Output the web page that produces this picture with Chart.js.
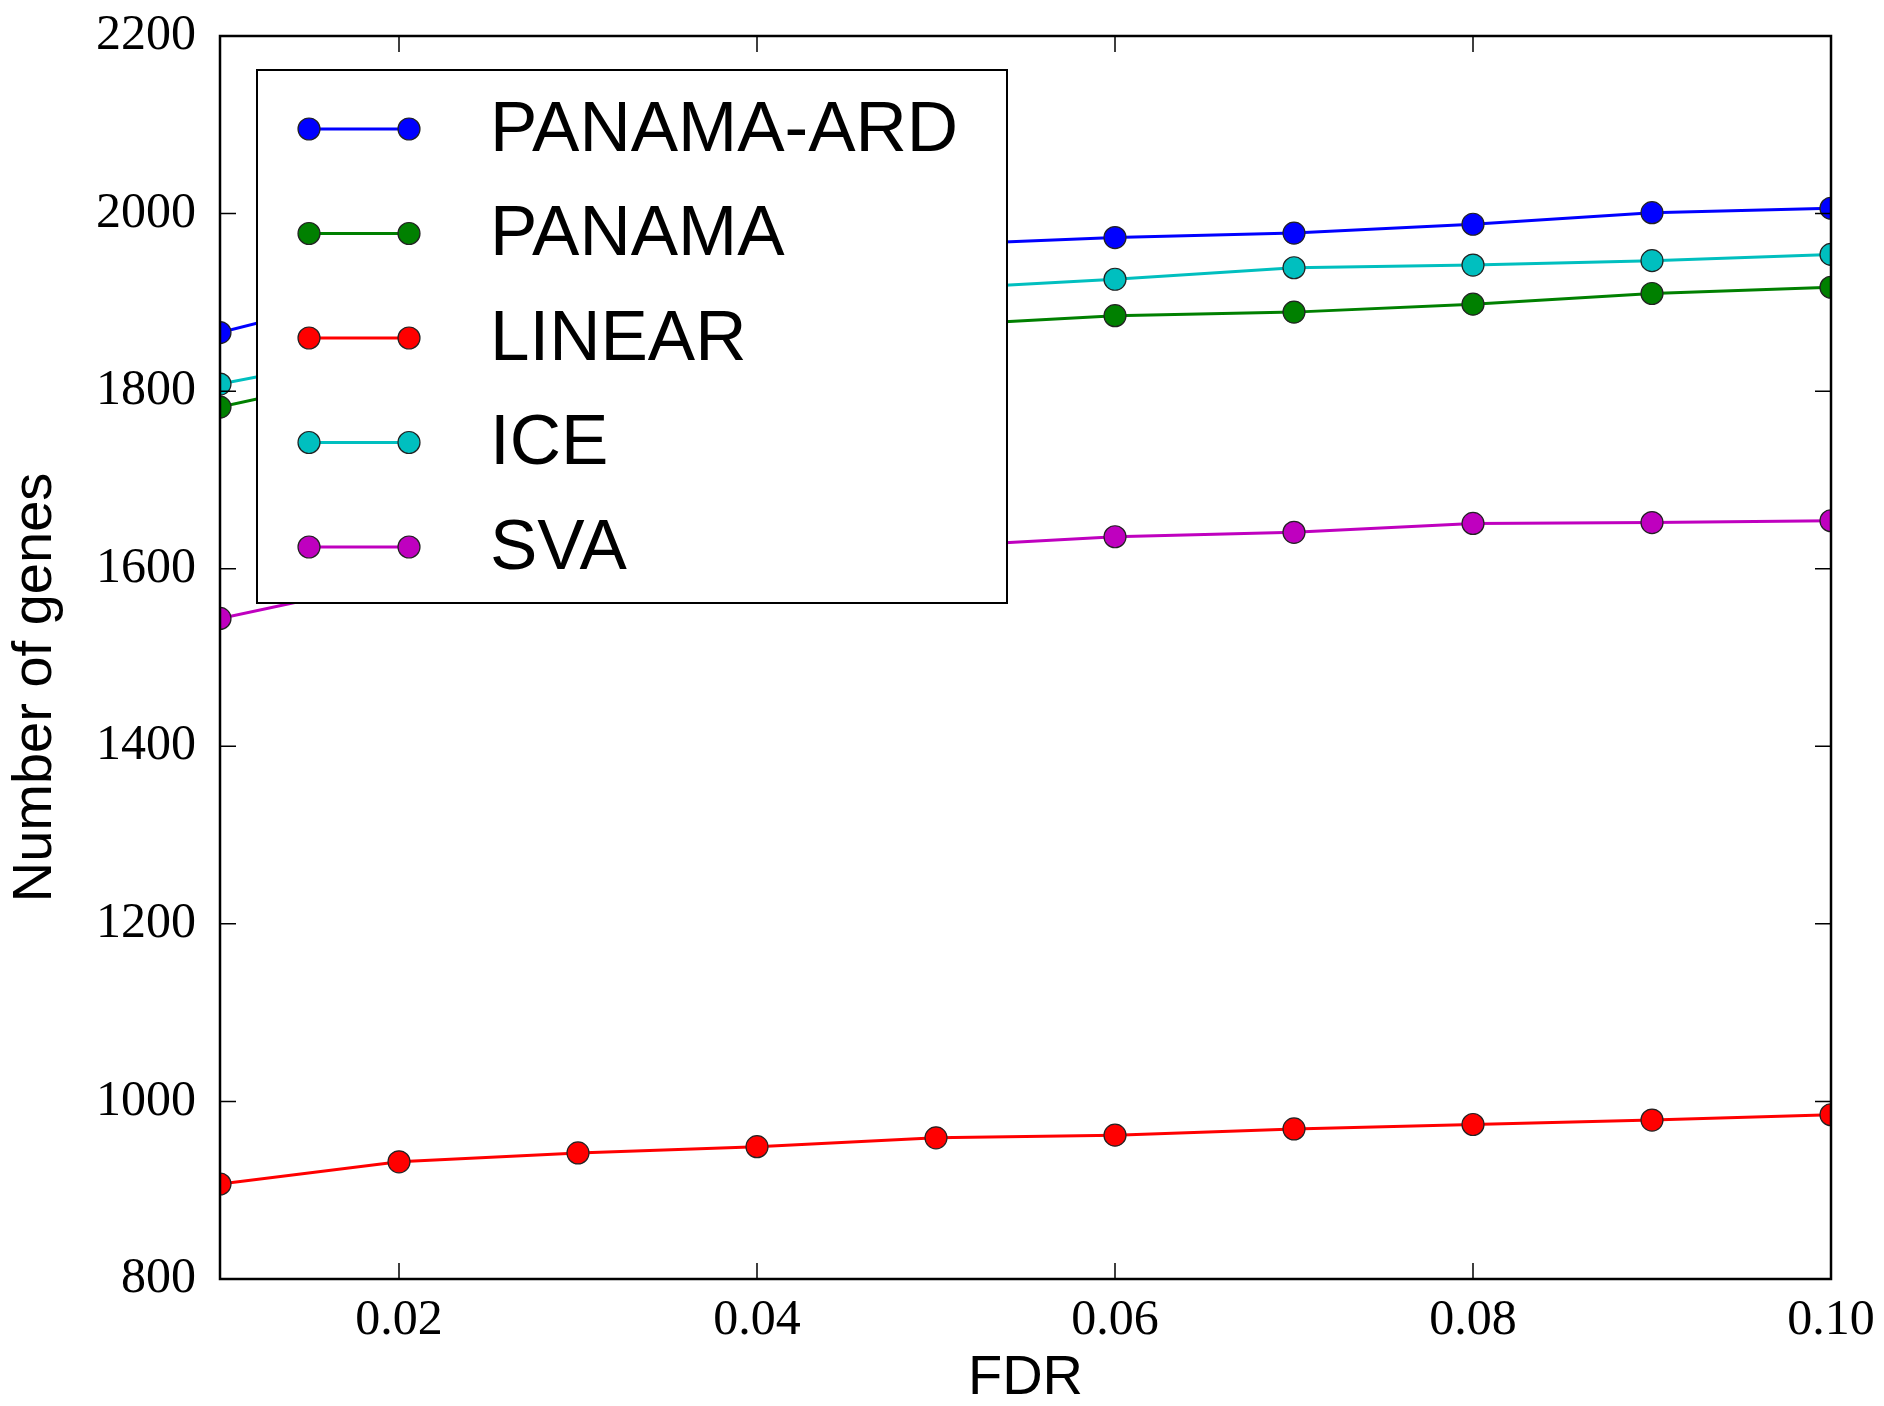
<!DOCTYPE html>
<html>
<head>
<meta charset="utf-8">
<script src="https://cdn.jsdelivr.net/npm/chart.js@4.4.1/dist/chart.umd.min.js"></script>
<style>
  html, body { margin: 0; padding: 0; background: #fff; }
  #wrap { width: 1884px; height: 1406px; position: relative; }
</style>
</head>
<body>
<div id="wrap"><canvas id="chart-canvas"></canvas></div>
<script>
const ctx = document.getElementById('chart-canvas');

// FDR thresholds on the x axis
const fdr = [0.01, 0.02, 0.03, 0.04, 0.05, 0.06, 0.07, 0.08, 0.09, 0.10];

// Number of genes per method (0.02-0.05 partly hidden behind the legend, estimated)
const panama_ard = [1866, 1917, 1935, 1950, 1965, 1973, 1978, 1988, 2001, 2006];
const panama = [1782, 1826, 1843, 1858, 1874, 1885, 1889, 1898, 1910, 1917];
const linear = [907, 932, 942, 949, 959, 962, 969, 974, 979, 985];
const ice = [1808, 1847, 1872, 1895, 1915, 1926, 1939, 1942, 1947, 1954];
const sva = [1544, 1587, 1600, 1612, 1625, 1636, 1641, 1651, 1652, 1654];

const series_names = ['PANAMA-ARD', 'PANAMA', 'LINEAR', 'ICE', 'SVA'];
const series_values = [panama_ard, panama, linear, ice, sva];
const series_colors = ['#0000ff', '#008000', '#ff0000', '#00bfbf', '#bf00bf'];

const x_ticks = [0.02, 0.04, 0.06, 0.08, 0.10];
const y_ticks = [800, 1000, 1200, 1400, 1600, 1800, 2000, 2200];
const y_title = 'Number of genes';

const tick_font = { family: '"Liberation Serif", serif', size: 50 };
const title_font = { family: '"Liberation Sans", Arial, sans-serif', size: 56 };

// inward ticks on all four sides + black frame, like matplotlib
const frame_plugin = {
  id: 'frame',
  afterDatasetsDraw(chart) {
    const { ctx, chartArea: a, scales } = chart;
    const len = 16;
    ctx.save();
    ctx.strokeStyle = '#000';
    ctx.lineWidth = 1.5;
    ctx.beginPath();
    y_ticks.forEach(v => {
      const y = scales.y.getPixelForValue(v);
      ctx.moveTo(a.left, y); ctx.lineTo(a.left + len, y);
      ctx.moveTo(a.right, y); ctx.lineTo(a.right - len, y);
    });
    x_ticks.forEach(v => {
      const x = scales.x.getPixelForValue(v);
      ctx.moveTo(x, a.bottom); ctx.lineTo(x, a.bottom - len);
      ctx.moveTo(x, a.top); ctx.lineTo(x, a.top + len);
    });
    ctx.stroke();
    ctx.restore();
  },
  afterDraw(chart) {
    const { ctx, chartArea: a } = chart;
    ctx.save();
    ctx.strokeStyle = '#000';
    ctx.lineWidth = 2.5;
    ctx.strokeRect(a.left, a.top, a.right - a.left, a.bottom - a.top);

    // y title sits a bit below the middle of the axis in the original
    ctx.translate(36, (a.top + a.bottom) / 2 + 30);
    ctx.rotate(-Math.PI / 2);
    ctx.fillStyle = '#000';
    ctx.font = `${title_font.size}px ${title_font.family}`;
    ctx.textAlign = 'center';
    ctx.textBaseline = 'middle';
    ctx.fillText(y_title, 0, 0);
    ctx.restore();
  }
};

// legend box inside the plot, upper left
const legend_plugin = {
  id: 'inner_legend',
  afterDatasetsDraw(chart) {
    const { ctx, chartArea: a } = chart;
    const box_x = a.left + 37, box_y = a.top + 34, box_w = 750, box_h = 533;
    const row_h = 104.5;
    ctx.save();
    ctx.fillStyle = '#fff';
    ctx.fillRect(box_x, box_y, box_w, box_h);
    ctx.strokeStyle = '#000';
    ctx.lineWidth = 2;
    ctx.strokeRect(box_x, box_y, box_w, box_h);
    chart.data.datasets.forEach((ds, i) => {
      const y = box_y + 59 + i * row_h;
      const x1 = box_x + 52, x2 = box_x + 152;
      ctx.strokeStyle = ds.borderColor;
      ctx.lineWidth = 3;
      ctx.beginPath();
      ctx.moveTo(x1, y); ctx.lineTo(x2, y);
      ctx.stroke();
      [x1, x2].forEach(x => {
        ctx.beginPath();
        ctx.arc(x, y, 11, 0, Math.PI * 2);
        ctx.fillStyle = ds.pointBackgroundColor;
        ctx.fill();
        ctx.strokeStyle = '#222';
        ctx.lineWidth = 1.2;
        ctx.stroke();
      });
      ctx.fillStyle = '#000';
      ctx.font = '71px "Liberation Sans", Arial, sans-serif';
      ctx.textBaseline = 'middle';
      ctx.textAlign = 'left';
      ctx.fillText(ds.label, box_x + 233, y + 2);
    });
    ctx.restore();
  }
};

const chart = new Chart(ctx, {
  type: 'line',
  data: {
    datasets: series_names.map((name, i) => ({
      label: name,
      data: fdr.map((x, j) => ({ x: x, y: series_values[i][j] })),
      borderColor: series_colors[i],
      backgroundColor: series_colors[i],
      pointBackgroundColor: series_colors[i],
      pointBorderColor: '#222',
      pointBorderWidth: 1.2,
      pointRadius: 11,
      borderWidth: 3,
      tension: 0,
      order: series_names.length - i
    }))
  },
  options: {
    responsive: true,
    maintainAspectRatio: false,
    animation: false,
    layout: { padding: { left: 0, right: 53, top: 36, bottom: 0 } },
    plugins: {
      legend: { display: false },
      tooltip: { enabled: false }
    },
    scales: {
      x: {
        type: 'linear',
        min: 0.01,
        max: 0.10,
        border: { display: false },
        grid: { display: false, drawTicks: false },
        afterBuildTicks: scale => { scale.ticks = x_ticks.map(v => ({ value: v })); },
        afterFit: scale => {
          scale.height = 127;
          scale.paddingLeft = 0;
          scale.paddingRight = 0;
        },
        ticks: {
          color: '#000',
          font: tick_font,
          padding: 12,
          maxRotation: 0,
          autoSkip: false,
          callback: v => v.toFixed(2)
        },
        title: { display: true, text: 'FDR', color: '#000', font: title_font, padding: { top: 0, bottom: -6 } }
      },
      y: {
        min: 800,
        max: 2200,
        border: { display: false },
        grid: { display: false, drawTicks: false },
        afterBuildTicks: scale => { scale.ticks = y_ticks.map(v => ({ value: v })); },
        afterFit: scale => {
          scale.width = 220;
          scale.paddingTop = 0;
          scale.paddingBottom = 0;
        },
        ticks: {
          color: '#000',
          font: tick_font,
          padding: 24,
          autoSkip: false,
          callback: v => String(v)
        }
      }
    }
  },
  plugins: [frame_plugin, legend_plugin]
});
</script>
</body>
</html>
